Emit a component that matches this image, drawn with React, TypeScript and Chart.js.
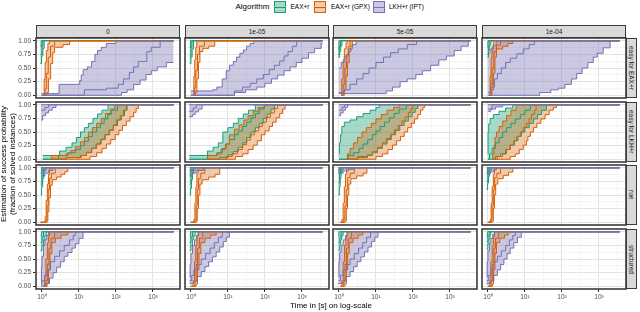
import React, { useEffect, useRef } from "react";
import { Chart, registerables } from "chart.js";
Chart.register(...registerables);

// ---------- categories / labels ----------
const ALGORITHMS = ["EAX+r", "EAX+r (GPX)", "LKH+r (IPT)"];
const COLUMNS = ["0", "1e-05", "5e-05", "1e-04"];
const ROWS = ["easy for EAX+r", "easy for LKH+r", "rue", "structured"];
const X_MAJOR = [1, 10, 100, 1000];
const X_MINOR = [3.1623, 31.623, 316.23, 3162.3];
const X_LABELS = ["10\u2070", "10\u00b9", "10\u00b2", "10\u00b3"];
const Y_MAJOR = [0, 0.25, 0.5, 0.75, 1];
const Y_MINOR = [0.125, 0.375, 0.625, 0.875];
const T_MAX = 3600;
const X_MIN = Math.pow(10, -0.16);
const X_MAX = Math.pow(10, 3.73);

// ---------- series: [time in s, estimated probability] step points ----------
// row "easy for EAX+r"
const EA0_G_UP = [[0.9, 0.9], [0.95, 1]];
const EA0_G_MID = [[0.9, 0.75], [1.0, 0.9], [1.05, 1]];
const EA0_G_LO = [[0.9, 0.58], [0.98, 0.72], [1.06, 0.86], [1.15, 1]];
const EA0_O_UP = [[1.12, 0], [1.15, 0.3], [1.22, 0.6], [1.32, 0.82], [1.45, 0.95], [1.6, 1]];
const EA0_O_MID = [[1.12, 0], [1.22, 0.12], [1.32, 0.4], [1.48, 0.7], [1.7, 0.9], [2.2, 1]];
const EA0_O_LO = [[1.12, 0], [1.35, 0.05], [1.5, 0.3], [1.72, 0.58], [1.95, 0.78], [2.2, 0.88], [3.7, 0.93], [5.6, 1]];
const EA0_P_UP = [[0.97, 0.03], [2.9, 0.2], [10.5, 0.27], [11.5, 0.37], [13, 0.47], [17, 0.52], [22, 0.62], [27, 0.75], [32, 0.82], [40, 0.88], [55, 0.95], [100, 1]];
const EA0_P_MID = [[0.97, 0], [14, 0.1], [55, 0.13], [115, 0.2], [160, 0.3], [230, 0.42], [300, 0.52], [400, 0.62], [680, 0.8], [900, 0.88], [1560, 1]];
const EA0_P_LO = [[0.97, 0], [141, 0.05], [200, 0.1], [300, 0.2], [450, 0.28], [650, 0.38], [900, 0.45], [1300, 0.52], [2300, 0.6]];

const EA1_G_UP = [[0.92, 0.88], [0.97, 1]];
const EA1_G_MID = [[0.92, 0.72], [1.0, 0.88], [1.06, 1]];
const EA1_G_LO = [[0.92, 0.58], [1.0, 0.7], [1.08, 0.85], [1.18, 1]];
const EA1_O_UP = [[1.15, 0], [1.2, 0.35], [1.27, 0.65], [1.35, 0.88], [1.44, 1]];
const EA1_O_MID = [[1.15, 0], [1.25, 0.15], [1.35, 0.45], [1.5, 0.75], [1.7, 0.9], [2.3, 1]];
const EA1_O_LO = [[1.15, 0], [1.32, 0.05], [1.45, 0.3], [1.6, 0.6], [1.75, 0.8], [2.1, 0.86], [3.0, 0.9], [4.4, 1]];
const EA1_P_UP = [[1.0, 0.08], [3.9, 0.1], [5, 0.15], [7, 0.3], [9, 0.45], [11, 0.55], [14, 0.62], [17, 0.7], [21, 0.77], [26, 0.83], [32, 0.9], [40, 0.95], [50, 1]];
const EA1_P_MID = [[1.0, 0], [15, 0.08], [25, 0.15], [40, 0.22], [60, 0.3], [90, 0.38], [130, 0.47], [180, 0.55], [250, 0.63], [330, 0.72], [420, 0.8], [550, 0.9], [720, 1]];
const EA1_P_LO = [[1.0, 0], [15, 0.05], [30, 0.1], [60, 0.15], [100, 0.22], [150, 0.3], [220, 0.37], [330, 0.45], [480, 0.52], [700, 0.6], [1000, 0.68], [1500, 0.78], [2200, 0.86], [3300, 0.95]];

const EA2_G_UP = [[0.95, 0.85], [1.0, 1]];
const EA2_G_MID = [[0.95, 0.75], [1.03, 0.9], [1.1, 1]];
const EA2_G_LO = [[0.95, 0.7], [1.05, 0.8], [1.12, 0.9], [1.2, 1]];
const EA2_O_UP = [[1.15, 0], [1.2, 0.3], [1.3, 0.65], [1.4, 0.85], [1.55, 0.95], [1.65, 1]];
const EA2_O_MID = [[1.15, 0], [1.3, 0.2], [1.45, 0.5], [1.6, 0.75], [1.8, 0.9], [2.0, 1]];
const EA2_O_LO = [[1.15, 0], [1.4, 0.1], [1.55, 0.35], [1.7, 0.6], [1.9, 0.8], [2.1, 0.9], [2.3, 1]];
const EA2_P_UP = [[1.0, 0.5], [1.15, 0.6], [1.4, 0.72], [1.8, 0.85], [2.3, 0.93], [2.9, 1]];
const EA2_P_MID = [[1.0, 0.05], [1.4, 0.1], [2, 0.2], [3, 0.3], [4.5, 0.4], [6.5, 0.5], [10, 0.6], [16, 0.7], [25, 0.78], [40, 0.85], [70, 0.93], [125, 1]];
const EA2_P_LO = [[1.0, 0.03], [19, 0.08], [28, 0.15], [45, 0.25], [70, 0.3], [120, 0.38], [180, 0.45], [300, 0.55], [500, 0.65], [800, 0.72], [1300, 0.82], [2000, 0.9], [3100, 1]];

const EA3_G_UP = [[0.97, 0.88], [1.0, 1]];
const EA3_G_MID = [[0.97, 0.75], [1.03, 0.9], [1.08, 1]];
const EA3_G_LO = [[0.97, 0.7], [1.04, 0.82], [1.12, 0.92], [1.2, 1]];
const EA3_O_UP = [[1.1, 0], [1.15, 0.35], [1.22, 0.7], [1.3, 0.9], [1.4, 1]];
const EA3_O_MID = [[1.1, 0], [1.2, 0.2], [1.3, 0.5], [1.45, 0.8], [1.7, 0.92], [2.2, 1]];
const EA3_O_LO = [[1.1, 0], [1.28, 0.1], [1.4, 0.4], [1.55, 0.7], [1.7, 0.85], [2.5, 0.9], [3.5, 0.95], [4.7, 1]];
const EA3_P_UP = [[1.0, 0.78], [1.2, 0.85], [1.4, 0.92], [1.67, 1]];
const EA3_P_MID = [[1.0, 0.05], [1.2, 0.15], [1.5, 0.3], [1.8, 0.4], [2.3, 0.5], [3, 0.6], [4, 0.68], [6, 0.76], [9, 0.85], [13, 0.93], [18, 1]];
const EA3_P_LO = [[1.0, 0], [25, 0.05], [50, 0.1], [80, 0.13], [120, 0.2], [180, 0.3], [250, 0.4], [350, 0.5], [500, 0.6], [700, 0.7], [900, 0.77], [1300, 0.87], [2000, 1]];

// row "easy for LKH+r"
const EL0_G_UP = [[1.05, 0.07], [3, 0.15], [4.5, 0.22], [6.5, 0.3], [8.5, 0.4], [11, 0.5], [14, 0.58], [18, 0.66], [24, 0.75], [32, 0.83], [42, 0.9], [61, 1]];
const EL0_G_MID = [[1.05, 0], [2.8, 0.07], [5, 0.12], [8, 0.18], [11, 0.25], [14, 0.33], [18, 0.42], [23, 0.5], [30, 0.58], [38, 0.66], [48, 0.74], [60, 0.82], [75, 0.9], [110, 1]];
const EL0_G_LO = [[1.05, 0], [4.5, 0.03], [11, 0.07], [16, 0.12], [22, 0.2], [29, 0.28], [38, 0.36], [50, 0.45], [65, 0.53], [85, 0.62], [110, 0.72], [140, 0.8], [170, 0.9], [200, 1]];
const EL0_O_UP = [[1.78, 0], [1.8, 0.07], [4.5, 0.1], [6, 0.16], [8, 0.23], [11, 0.32], [14, 0.4], [18, 0.5], [23, 0.58], [30, 0.66], [40, 0.75], [52, 0.84], [70, 0.92], [93, 1]];
const EL0_O_MID = [[1.78, 0], [4.5, 0.03], [11.6, 0.07], [16, 0.13], [22, 0.2], [30, 0.28], [40, 0.37], [52, 0.45], [68, 0.54], [85, 0.63], [105, 0.72], [130, 0.8], [160, 0.9], [190, 1]];
const EL0_O_LO = [[1.78, 0], [20, 0.05], [30, 0.12], [42, 0.2], [55, 0.28], [72, 0.36], [95, 0.45], [120, 0.53], [150, 0.62], [190, 0.7], [240, 0.78], [300, 0.86], [350, 0.93], [405, 1]];
const EL0_P_UP = [[0.95, 1]];
const EL0_P_MID = [[0.95, 0.9], [1.2, 0.95], [1.5, 1]];
const EL0_P_LO = [[0.95, 0.72], [1.05, 0.8], [1.25, 0.85], [1.5, 0.9], [1.9, 0.95], [2.4, 1]];

const EL1_G_UP = [[0.9, 0.07], [2.8, 0.15], [4, 0.22], [5.5, 0.3], [7.3, 0.5], [10, 0.58], [14, 0.66], [19, 0.75], [26, 0.83], [36, 0.9], [55, 1]];
const EL1_G_MID = [[0.9, 0], [2.8, 0.07], [5, 0.12], [7, 0.2], [9, 0.28], [11, 0.36], [15, 0.45], [19, 0.52], [25, 0.6], [32, 0.68], [42, 0.76], [55, 0.84], [70, 0.92], [95, 1]];
const EL1_G_LO = [[0.9, 0], [6, 0.03], [10, 0.08], [14, 0.14], [19, 0.22], [25, 0.3], [32, 0.4], [42, 0.5], [55, 0.58], [70, 0.66], [90, 0.75], [115, 0.83], [145, 0.92], [180, 1]];
const EL1_O_UP = [[2.8, 0], [2.85, 0.07], [5, 0.1], [6.5, 0.18], [8.5, 0.28], [11, 0.45], [15, 0.55], [20, 0.63], [27, 0.72], [35, 0.8], [48, 0.88], [65, 0.95], [100, 1]];
const EL1_O_MID = [[2.8, 0], [9, 0.05], [13, 0.1], [18, 0.18], [25, 0.27], [32, 0.35], [40, 0.45], [52, 0.52], [68, 0.6], [85, 0.68], [110, 0.77], [140, 0.85], [180, 0.93], [220, 1]];
const EL1_O_LO = [[2.8, 0], [16, 0.05], [25, 0.1], [35, 0.18], [48, 0.26], [62, 0.34], [80, 0.45], [100, 0.52], [130, 0.6], [160, 0.68], [200, 0.76], [250, 0.84], [300, 0.92], [350, 1]];
const EL1_P_UP = [[0.9, 1]];
const EL1_P_MID = [[0.9, 0.88], [1.15, 0.94], [1.4, 1]];
const EL1_P_LO = [[0.9, 0.78], [1.1, 0.82], [1.3, 0.87], [1.6, 0.92], [2, 1]];

const EL2_G_UP = [[1.0, 0.1], [1.03, 0.3], [1.1, 0.45], [1.2, 0.6], [1.4, 0.68], [2, 0.72], [3, 0.78], [4.5, 0.84], [7, 0.9], [10, 0.95], [12.4, 1]];
const EL2_G_MID = [[1.0, 0], [1.8, 0.07], [2.5, 0.12], [3.5, 0.2], [4.5, 0.28], [6, 0.36], [8, 0.45], [10, 0.52], [13, 0.6], [17, 0.68], [23, 0.76], [31, 0.84], [42, 0.92], [66, 1]];
const EL2_G_LO = [[1.0, 0], [3.2, 0.03], [5.9, 0.07], [8, 0.12], [11, 0.2], [15, 0.28], [20, 0.36], [26, 0.45], [34, 0.53], [44, 0.62], [58, 0.7], [75, 0.78], [95, 0.86], [115, 0.93], [136, 1]];
const EL2_O_UP = [[1.6, 0], [1.7, 0.1], [2.0, 0.2], [2.5, 0.3], [3.2, 0.4], [4.2, 0.5], [5.5, 0.58], [7.5, 0.66], [10, 0.74], [14, 0.82], [20, 0.9], [30, 0.95], [43, 1]];
const EL2_O_MID = [[1.6, 0], [3.2, 0.05], [5.9, 0.08], [8, 0.14], [11, 0.22], [15, 0.3], [19, 0.38], [25, 0.46], [32, 0.54], [40, 0.62], [50, 0.7], [62, 0.78], [75, 0.86], [88, 0.93], [100, 1]];
const EL2_O_LO = [[1.6, 0], [10, 0.05], [15, 0.1], [21, 0.18], [28, 0.26], [36, 0.34], [46, 0.42], [58, 0.5], [72, 0.58], [90, 0.66], [110, 0.74], [135, 0.82], [160, 0.9], [185, 0.95], [207, 1]];
const EL2_P_UP = [[1.0, 1]];
const EL2_P_MID = [[1.0, 0.9], [1.2, 0.95], [1.4, 1]];
const EL2_P_LO = [[1.0, 0.8], [1.1, 0.85], [1.3, 0.9], [1.5, 0.95], [1.7, 1]];

const EL3_G_UP = [[1.0, 0.1], [1.01, 0.5], [1.05, 0.65], [1.15, 0.75], [1.4, 0.82], [2, 0.88], [3, 0.94], [4.7, 1]];
const EL3_G_MID = [[1.0, 0], [1.1, 0.1], [1.3, 0.2], [1.6, 0.3], [2, 0.4], [2.5, 0.5], [3.2, 0.58], [4.2, 0.66], [5.5, 0.74], [7.5, 0.82], [10, 0.9], [14, 1]];
const EL3_G_LO = [[1.0, 0], [1.6, 0.05], [2.2, 0.1], [3, 0.18], [4, 0.26], [5.2, 0.34], [6.5, 0.42], [8, 0.5], [10, 0.58], [13, 0.66], [17, 0.74], [22, 0.82], [28, 0.9], [38, 1]];
const EL3_O_UP = [[1.3, 0], [1.35, 0.1], [1.45, 0.25], [1.55, 0.4], [1.7, 0.5], [2, 0.6], [2.5, 0.7], [3.2, 0.8], [4.2, 0.9], [5.8, 1]];
const EL3_O_MID = [[1.3, 0], [1.8, 0.05], [2.5, 0.1], [3.2, 0.18], [4, 0.26], [5, 0.34], [6, 0.42], [7.5, 0.5], [9, 0.58], [11, 0.66], [13, 0.74], [15, 0.82], [18, 0.9], [20, 1]];
const EL3_O_LO = [[1.3, 0], [4, 0.05], [5.5, 0.1], [7, 0.18], [9, 0.26], [11, 0.34], [12, 0.42], [14, 0.5], [17, 0.58], [21, 0.66], [27, 0.74], [35, 0.82], [45, 0.9], [58, 0.95], [71, 1]];
const EL3_P_UP = [[1.0, 1]];
const EL3_P_MID = [[1.0, 0.92], [1.3, 1]];
const EL3_P_LO = [[1.0, 0.88], [1.2, 0.92], [1.6, 0.96], [2.5, 1]];

// row "rue"
const RU0_G_UP = [[0.92, 0.9], [0.97, 1]];
const RU0_G_MID = [[0.92, 0.7], [1.0, 0.85], [1.08, 1]];
const RU0_G_LO = [[0.92, 0.5], [0.98, 0.65], [1.05, 0.8], [1.12, 0.92], [1.2, 1]];
const RU0_O_UP = [[0.92, 0], [1.22, 0.1], [1.3, 0.4], [1.4, 0.7], [1.5, 0.88], [1.6, 1]];
const RU0_O_MID = [[0.92, 0], [1.3, 0.05], [1.38, 0.3], [1.48, 0.6], [1.6, 0.8], [1.8, 0.9], [2.3, 1]];
const RU0_O_LO = [[0.92, 0], [1.36, 0.02], [1.45, 0.2], [1.55, 0.45], [1.7, 0.68], [1.9, 0.78], [2.5, 0.83], [3.3, 0.88], [4.2, 0.93], [5, 1]];
const RU0_P_UP = [[0.95, 1]];
const RU0_P_MID = [[0.95, 0.95], [1.3, 1]];
const RU0_P_LO = [[0.95, 0.85], [1.2, 0.9], [1.5, 0.95], [1.97, 1]];

const RU1_G_UP = [[0.92, 0.88], [0.97, 1]];
const RU1_G_MID = [[0.92, 0.7], [1.0, 0.85], [1.07, 1]];
const RU1_G_LO = [[0.92, 0.5], [0.98, 0.62], [1.04, 0.78], [1.1, 0.9], [1.18, 1]];
const RU1_O_UP = [[1.0, 0], [1.2, 0.05], [1.28, 0.35], [1.36, 0.65], [1.45, 0.88], [1.55, 1]];
const RU1_O_MID = [[1.0, 0], [1.3, 0.05], [1.38, 0.3], [1.48, 0.6], [1.6, 0.8], [1.85, 0.9], [2.4, 1]];
const RU1_O_LO = [[1.0, 0], [1.38, 0.02], [1.48, 0.25], [1.6, 0.5], [1.75, 0.7], [2.0, 0.78], [3, 0.83], [4.5, 0.88], [6, 1]];
const RU1_P_UP = [[0.92, 1]];
const RU1_P_MID = [[0.92, 0.95], [1.3, 1]];
const RU1_P_LO = [[0.92, 0.85], [1.1, 0.9], [1.4, 0.95], [2.2, 1]];

const RU2_G_UP = [[0.97, 0.9], [1.0, 1]];
const RU2_G_MID = [[0.97, 0.72], [1.04, 0.88], [1.1, 1]];
const RU2_G_LO = [[0.97, 0.5], [1.03, 0.65], [1.08, 0.8], [1.14, 0.92], [1.2, 1]];
const RU2_O_UP = [[1.1, 0], [1.2, 0.05], [1.3, 0.35], [1.4, 0.65], [1.5, 0.88], [1.62, 1]];
const RU2_O_MID = [[1.1, 0], [1.35, 0.05], [1.45, 0.3], [1.58, 0.6], [1.72, 0.82], [2.0, 0.9], [2.6, 1]];
const RU2_O_LO = [[1.1, 0], [1.45, 0.02], [1.58, 0.25], [1.7, 0.5], [1.85, 0.7], [2.1, 0.8], [3, 0.85], [4.5, 0.9], [5.7, 1]];
const RU2_P_UP = [[0.97, 1]];
const RU2_P_MID = [[0.97, 0.96], [1.3, 1]];
const RU2_P_LO = [[0.97, 0.9], [1.3, 0.94], [1.8, 0.97], [2.6, 1]];

const RU3_G_UP = [[0.92, 0.9], [0.97, 1]];
const RU3_G_MID = [[0.92, 0.75], [1.0, 0.9], [1.06, 1]];
const RU3_G_LO = [[0.92, 0.6], [0.98, 0.72], [1.04, 0.84], [1.1, 0.93], [1.15, 1]];
const RU3_O_UP = [[1.0, 0], [1.15, 0.05], [1.22, 0.35], [1.3, 0.65], [1.4, 0.88], [1.5, 1]];
const RU3_O_MID = [[1.0, 0], [1.22, 0.05], [1.3, 0.3], [1.4, 0.6], [1.52, 0.82], [1.75, 0.9], [2.2, 1]];
const RU3_O_LO = [[1.0, 0], [1.3, 0.02], [1.4, 0.25], [1.5, 0.5], [1.62, 0.7], [1.85, 0.8], [2.6, 0.86], [3.6, 0.92], [4.7, 1]];
const RU3_P_UP = [[0.95, 1]];
const RU3_P_MID = [[0.95, 0.95], [1.25, 1]];
const RU3_P_LO = [[0.95, 0.88], [1.15, 0.92], [1.4, 0.96], [1.7, 1]];

// row "structured"
const ST0_G_UP = [[0.92, 0.92], [0.97, 1]];
const ST0_G_MID = [[0.92, 0.8], [1.0, 0.9], [1.1, 1]];
const ST0_G_LO = [[0.92, 0.65], [1.0, 0.75], [1.1, 0.85], [1.2, 0.93], [1.34, 1]];
const ST0_O_UP = [[1.1, 0], [1.18, 0.2], [1.28, 0.5], [1.4, 0.8], [1.5, 0.92], [1.6, 1]];
const ST0_O_MID = [[1.1, 0], [1.28, 0.1], [1.4, 0.4], [1.55, 0.7], [1.75, 0.88], [2.2, 1]];
const ST0_O_LO = [[1.1, 0], [1.38, 0.05], [1.5, 0.3], [1.65, 0.6], [1.85, 0.8], [2.3, 0.88], [3.3, 0.94], [5, 1]];
const ST0_P_UP = [[0.95, 0.08], [0.97, 0.35], [1.0, 0.55], [1.1, 0.75], [1.2, 0.85], [1.35, 0.93], [1.5, 1]];
const ST0_P_MID = [[0.95, 0.03], [1.0, 0.1], [1.2, 0.2], [1.4, 0.3], [1.7, 0.45], [2.2, 0.55], [3, 0.65], [4, 0.75], [5.5, 0.85], [7, 0.93], [8, 1]];
const ST0_P_LO = [[0.95, 0], [1.3, 0.05], [1.6, 0.15], [2, 0.25], [2.5, 0.35], [3.2, 0.45], [4, 0.55], [5, 0.62], [6.5, 0.7], [8, 0.78], [10, 0.88], [12.9, 1]];

const ST1_G_UP = [[0.92, 0.92], [0.97, 1]];
const ST1_G_MID = [[0.92, 0.8], [1.0, 0.9], [1.1, 1]];
const ST1_G_LO = [[0.92, 0.65], [1.0, 0.75], [1.1, 0.86], [1.2, 0.93], [1.3, 1]];
const ST1_O_UP = [[1.0, 0], [1.15, 0.1], [1.25, 0.45], [1.35, 0.75], [1.45, 0.92], [1.55, 1]];
const ST1_O_MID = [[1.0, 0], [1.28, 0.08], [1.38, 0.4], [1.5, 0.7], [1.7, 0.88], [2.1, 1]];
const ST1_O_LO = [[1.0, 0], [1.38, 0.04], [1.5, 0.3], [1.65, 0.6], [1.85, 0.8], [2.4, 0.88], [3.4, 0.94], [4.8, 1]];
const ST1_P_UP = [[0.92, 0.17], [0.95, 0.4], [1.0, 0.6], [1.1, 0.75], [1.25, 0.85], [1.4, 0.93], [1.6, 1]];
const ST1_P_MID = [[0.92, 0.1], [1.05, 0.2], [1.2, 0.3], [1.5, 0.4], [1.9, 0.5], [2.5, 0.6], [3.3, 0.7], [4.3, 0.8], [5.5, 0.9], [7, 1]];
const ST1_P_LO = [[0.92, 0.05], [1.2, 0.1], [1.5, 0.18], [1.9, 0.27], [2.4, 0.36], [3, 0.45], [3.8, 0.54], [4.8, 0.63], [6, 0.72], [7.5, 0.82], [9, 0.9], [11, 1]];

const ST2_G_UP = [[0.97, 0.92], [1.0, 1]];
const ST2_G_MID = [[0.97, 0.8], [1.05, 0.9], [1.15, 1]];
const ST2_G_LO = [[0.97, 0.65], [1.05, 0.76], [1.12, 0.86], [1.2, 0.93], [1.3, 1]];
const ST2_O_UP = [[1.1, 0], [1.2, 0.1], [1.3, 0.45], [1.42, 0.75], [1.55, 0.92], [1.65, 1]];
const ST2_O_MID = [[1.1, 0], [1.35, 0.08], [1.45, 0.4], [1.6, 0.7], [1.8, 0.88], [2.2, 1]];
const ST2_O_LO = [[1.1, 0], [1.45, 0.04], [1.58, 0.3], [1.72, 0.6], [1.9, 0.8], [2.4, 0.88], [3.3, 0.94], [4.4, 1]];
const ST2_P_UP = [[0.97, 0.17], [1.0, 0.45], [1.05, 0.62], [1.15, 0.75], [1.3, 0.85], [1.5, 0.93], [1.7, 1]];
const ST2_P_MID = [[0.97, 0.1], [1.1, 0.2], [1.3, 0.3], [1.6, 0.4], [2, 0.5], [2.6, 0.6], [3.4, 0.7], [4.4, 0.8], [5.6, 0.9], [7.2, 1]];
const ST2_P_LO = [[0.97, 0.05], [1.3, 0.1], [1.6, 0.18], [2, 0.27], [2.5, 0.36], [3.1, 0.45], [3.9, 0.54], [4.9, 0.63], [6.1, 0.72], [7.6, 0.82], [9.3, 0.9], [11.3, 1]];

const ST3_G_UP = [[0.92, 0.92], [0.97, 1]];
const ST3_G_MID = [[0.92, 0.82], [1.0, 0.92], [1.08, 1]];
const ST3_G_LO = [[0.92, 0.68], [1.0, 0.78], [1.07, 0.88], [1.14, 0.94], [1.2, 1]];
const ST3_O_UP = [[1.0, 0], [1.12, 0.1], [1.2, 0.45], [1.3, 0.75], [1.4, 0.92], [1.5, 1]];
const ST3_O_MID = [[1.0, 0], [1.22, 0.08], [1.32, 0.4], [1.45, 0.7], [1.6, 0.88], [1.95, 1]];
const ST3_O_LO = [[1.0, 0], [1.32, 0.04], [1.42, 0.3], [1.55, 0.6], [1.7, 0.8], [2.1, 0.88], [2.8, 0.94], [3.5, 1]];
const ST3_P_UP = [[0.92, 0.17], [0.95, 0.45], [1.0, 0.65], [1.1, 0.78], [1.2, 0.88], [1.35, 0.95], [1.5, 1]];
const ST3_P_MID = [[0.92, 0.1], [1.05, 0.2], [1.2, 0.32], [1.45, 0.45], [1.8, 0.55], [2.3, 0.65], [3, 0.75], [3.8, 0.85], [4.7, 0.93], [5.5, 1]];
const ST3_P_LO = [[0.92, 0.05], [1.2, 0.1], [1.45, 0.2], [1.8, 0.3], [2.2, 0.4], [2.7, 0.5], [3.3, 0.6], [4, 0.7], [5, 0.8], [6.3, 0.9], [8, 1]];

// table [row][column][algorithm] -> [upper, estimate, lower]
const TABLE = [
  [
    [[EA0_G_UP, EA0_G_MID, EA0_G_LO], [EA0_O_UP, EA0_O_MID, EA0_O_LO], [EA0_P_UP, EA0_P_MID, EA0_P_LO]],
    [[EA1_G_UP, EA1_G_MID, EA1_G_LO], [EA1_O_UP, EA1_O_MID, EA1_O_LO], [EA1_P_UP, EA1_P_MID, EA1_P_LO]],
    [[EA2_G_UP, EA2_G_MID, EA2_G_LO], [EA2_O_UP, EA2_O_MID, EA2_O_LO], [EA2_P_UP, EA2_P_MID, EA2_P_LO]],
    [[EA3_G_UP, EA3_G_MID, EA3_G_LO], [EA3_O_UP, EA3_O_MID, EA3_O_LO], [EA3_P_UP, EA3_P_MID, EA3_P_LO]],
  ],
  [
    [[EL0_G_UP, EL0_G_MID, EL0_G_LO], [EL0_O_UP, EL0_O_MID, EL0_O_LO], [EL0_P_UP, EL0_P_MID, EL0_P_LO]],
    [[EL1_G_UP, EL1_G_MID, EL1_G_LO], [EL1_O_UP, EL1_O_MID, EL1_O_LO], [EL1_P_UP, EL1_P_MID, EL1_P_LO]],
    [[EL2_G_UP, EL2_G_MID, EL2_G_LO], [EL2_O_UP, EL2_O_MID, EL2_O_LO], [EL2_P_UP, EL2_P_MID, EL2_P_LO]],
    [[EL3_G_UP, EL3_G_MID, EL3_G_LO], [EL3_O_UP, EL3_O_MID, EL3_O_LO], [EL3_P_UP, EL3_P_MID, EL3_P_LO]],
  ],
  [
    [[RU0_G_UP, RU0_G_MID, RU0_G_LO], [RU0_O_UP, RU0_O_MID, RU0_O_LO], [RU0_P_UP, RU0_P_MID, RU0_P_LO]],
    [[RU1_G_UP, RU1_G_MID, RU1_G_LO], [RU1_O_UP, RU1_O_MID, RU1_O_LO], [RU1_P_UP, RU1_P_MID, RU1_P_LO]],
    [[RU2_G_UP, RU2_G_MID, RU2_G_LO], [RU2_O_UP, RU2_O_MID, RU2_O_LO], [RU2_P_UP, RU2_P_MID, RU2_P_LO]],
    [[RU3_G_UP, RU3_G_MID, RU3_G_LO], [RU3_O_UP, RU3_O_MID, RU3_O_LO], [RU3_P_UP, RU3_P_MID, RU3_P_LO]],
  ],
  [
    [[ST0_G_UP, ST0_G_MID, ST0_G_LO], [ST0_O_UP, ST0_O_MID, ST0_O_LO], [ST0_P_UP, ST0_P_MID, ST0_P_LO]],
    [[ST1_G_UP, ST1_G_MID, ST1_G_LO], [ST1_O_UP, ST1_O_MID, ST1_O_LO], [ST1_P_UP, ST1_P_MID, ST1_P_LO]],
    [[ST2_G_UP, ST2_G_MID, ST2_G_LO], [ST2_O_UP, ST2_O_MID, ST2_O_LO], [ST2_P_UP, ST2_P_MID, ST2_P_LO]],
    [[ST3_G_UP, ST3_G_MID, ST3_G_LO], [ST3_O_UP, ST3_O_MID, ST3_O_LO], [ST3_P_UP, ST3_P_MID, ST3_P_LO]],
  ],
];

// ---------- styles ----------
const LINE_COLORS = ["#1b9e77", "#d95f02", "#7570b3"];
const FILL_COLORS = ["rgba(27,158,119,0.38)", "rgba(217,95,2,0.33)", "rgba(117,112,179,0.38)"];
const FONT = "'Liberation Sans', Arial, Helvetica, sans-serif";
const PANEL_L = [36, 185, 333, 482];
const PANEL_T = [38, 102, 165, 229];
const PANEL_W = 144;
const PANEL_H = 60;
const PAD = 8;
const X_AXIS_H = 14;
const TICK_FONT = 6.5;

const isMajorX = (v: number) => Math.abs(Math.log10(v) - Math.round(Math.log10(v))) < 1e-3;
const isMajorY = (v: number) => Math.abs(v * 4 - Math.round(v * 4)) < 1e-6;

const borderPlugin = {
  id: "panelBorder",
  afterDraw(chart: any) {
    const { ctx, chartArea: a } = chart;
    ctx.save();
    ctx.strokeStyle = "#3c3c3c";
    ctx.lineWidth = 1.6;
    ctx.strokeRect(a.left, a.top, a.right - a.left, a.bottom - a.top);
    ctx.restore();
  },
};

function Panel({ r, c }: { r: number; c: number }) {
  const ref = useRef<HTMLCanvasElement>(null);
  const yAxisW = c === 0 ? PANEL_L[0] : 0;
  const xAxisH = r === 3 ? X_AXIS_H : 0;
  const padL = c === 0 ? 0 : PAD;
  const left = PANEL_L[c] - yAxisW - padL;
  const top = PANEL_T[r] - PAD;
  const width = padL + yAxisW + PANEL_W + PAD;
  const height = PAD + PANEL_H + xAxisH + PAD;

  useEffect(() => {
    if (!ref.current) return;
    const datasets: any[] = [];
    for (let a = 2; a >= 0; a--) {
      const curves = TABLE[r][c][a];
      const base = datasets.length;
      curves.forEach((pts: number[][], idx: number) => {
        const last = pts[pts.length - 1];
        const data = pts.map((p) => ({ x: p[0], y: p[1] }));
        if (last[0] < T_MAX) data.push({ x: T_MAX, y: last[1] });
        datasets.push({
          label: ALGORITHMS[a],
          data,
          borderColor: LINE_COLORS[a],
          backgroundColor: FILL_COLORS[a],
          borderWidth: 1,
          pointRadius: 0,
          stepped: true,
          fill: idx === 0 ? base + 2 : false,
        });
      });
    }
    const gridColor = (major: boolean) => (major ? "#e3e3e3" : "#efefef");
    const chart = new Chart(ref.current, {
      type: "line",
      data: { datasets },
      options: {
        animation: false,
        responsive: false,
        maintainAspectRatio: false,
        devicePixelRatio: 1,
        events: [],
        layout: { padding: { left: padL, right: PAD, top: PAD, bottom: PAD } },
        plugins: {
          legend: { display: false },
          tooltip: { enabled: false },
          filler: { drawTime: "beforeDatasetsDraw", propagate: false },
        },
        scales: {
          x: {
            type: "logarithmic",
            min: X_MIN,
            max: X_MAX,
            afterBuildTicks: (s: any) => {
              s.ticks = [...X_MAJOR, ...X_MINOR].sort((p, q) => p - q).map((v) => ({ value: v }));
            },
            afterFit: (s: any) => {
              s.height = xAxisH;
            },
            border: { display: false },
            grid: {
              color: (ctx: any) => gridColor(ctx.tick ? isMajorX(ctx.tick.value) : false),
              lineWidth: (ctx: any) => (ctx.tick && isMajorX(ctx.tick.value) ? 1 : 0.6),
              drawTicks: r === 3,
              tickLength: 3,
              tickColor: (ctx: any) => (ctx.tick && isMajorX(ctx.tick.value) ? "#333333" : "rgba(0,0,0,0)"),
            },
            ticks: {
              display: r === 3,
              autoSkip: false,
              maxRotation: 0,
              minRotation: 0,
              padding: 1,
              color: "#4d4d4d",
              font: { family: FONT, size: TICK_FONT },
              callback: (v: any) => {
                const i = X_MAJOR.findIndex((m) => Math.abs(m - Number(v)) < 1e-6 * m);
                return i >= 0 ? X_LABELS[i] : "";
              },
            },
          },
          y: {
            type: "linear",
            min: -0.05,
            max: 1.05,
            afterBuildTicks: (s: any) => {
              s.ticks = [...Y_MAJOR, ...Y_MINOR].sort((p, q) => p - q).map((v) => ({ value: v }));
            },
            afterFit: (s: any) => {
              s.width = yAxisW;
            },
            border: { display: false },
            grid: {
              color: (ctx: any) => gridColor(ctx.tick ? isMajorY(ctx.tick.value) : false),
              lineWidth: (ctx: any) => (ctx.tick && isMajorY(ctx.tick.value) ? 1 : 0.6),
              drawTicks: c === 0,
              tickLength: 3,
              tickColor: (ctx: any) => (ctx.tick && isMajorY(ctx.tick.value) ? "#333333" : "rgba(0,0,0,0)"),
            },
            ticks: {
              display: c === 0,
              autoSkip: false,
              padding: 2,
              color: "#4d4d4d",
              font: { family: FONT, size: TICK_FONT },
              callback: (v: any) => (isMajorY(Number(v)) ? Number(v).toFixed(2) : ""),
            },
          },
        },
      } as any,
      plugins: [borderPlugin],
    });
    return () => chart.destroy();
  }, []);

  return (
    <canvas
      ref={ref}
      width={width}
      height={height}
      style={{ position: "absolute", left, top, width, height }}
    />
  );
}

function LegendKey({ x, a }: { x: number; a: number }) {
  return (
    <div
      style={{
        position: "absolute",
        left: x,
        top: 1,
        width: 12,
        height: 12,
        boxSizing: "border-box",
        border: `1px solid ${LINE_COLORS[a]}`,
        background: FILL_COLORS[a],
      }}
    >
      <div style={{ position: "absolute", left: 0, right: 0, top: 4.5, height: 1, background: LINE_COLORS[a] }} />
    </div>
  );
}

export default function App() {
  const legendX = [274, 314, 373];
  const legendLabelX = [290.5, 331, 389];
  return (
    <div
      style={{
        position: "absolute",
        left: 0,
        top: 0,
        width: 640,
        height: 312,
        background: "#ffffff",
        fontFamily: FONT,
        overflow: "hidden",
      }}
    >
      {/* legend */}
      <div style={{ position: "absolute", left: 235.5, top: 2, fontSize: 8, lineHeight: "10px", color: "#000" }}>
        Algorithm
      </div>
      {ALGORITHMS.map((name, a) => (
        <React.Fragment key={name}>
          <LegendKey x={legendX[a]} a={a} />
          <div
            style={{
              position: "absolute",
              left: legendLabelX[a],
              top: 3,
              fontSize: 6.5,
              lineHeight: "8px",
              color: "#000",
              whiteSpace: "nowrap",
            }}
          >
            {name}
          </div>
        </React.Fragment>
      ))}

      {/* column strips */}
      {COLUMNS.map((name, c) => (
        <div
          key={name}
          style={{
            position: "absolute",
            left: PANEL_L[c],
            top: 25,
            width: PANEL_W,
            height: 13,
            boxSizing: "border-box",
            border: "1px solid #3c3c3c",
            background: "#d9d9d9",
            color: "#1a1a1a",
            fontSize: 6.5,
            lineHeight: "11px",
            textAlign: "center",
          }}
        >
          {name}
        </div>
      ))}

      {/* row strips */}
      {ROWS.map((name, r) => (
        <div
          key={name}
          style={{
            position: "absolute",
            left: 626,
            top: PANEL_T[r],
            width: 11,
            height: PANEL_H,
            boxSizing: "border-box",
            border: "1px solid #3c3c3c",
            background: "#d9d9d9",
            color: "#1a1a1a",
            fontSize: 6.5,
            writingMode: "vertical-rl",
            display: "flex",
            alignItems: "center",
            justifyContent: "center",
            whiteSpace: "nowrap",
          }}
        >
          {name}
        </div>
      ))}

      {/* panels */}
      {ROWS.map((_, r) => COLUMNS.map((__, c) => <Panel key={`${r}-${c}`} r={r} c={c} />))}

      {/* axis titles */}
      <div
        style={{
          position: "absolute",
          left: 9 - 110,
          top: 163.5 - 9,
          width: 220,
          height: 18,
          transform: "rotate(-90deg)",
          textAlign: "center",
          fontSize: 8,
          lineHeight: "8.6px",
          color: "#000",
          whiteSpace: "nowrap",
        }}
      >
        Estimation of success probability
        <br />
        (fraction of solved instances)
      </div>
      <div
        style={{
          position: "absolute",
          left: 331 - 100,
          top: 301,
          width: 200,
          textAlign: "center",
          fontSize: 8,
          lineHeight: "10px",
          color: "#000",
        }}
      >
        Time in [s] on log-scale
      </div>
    </div>
  );
}
